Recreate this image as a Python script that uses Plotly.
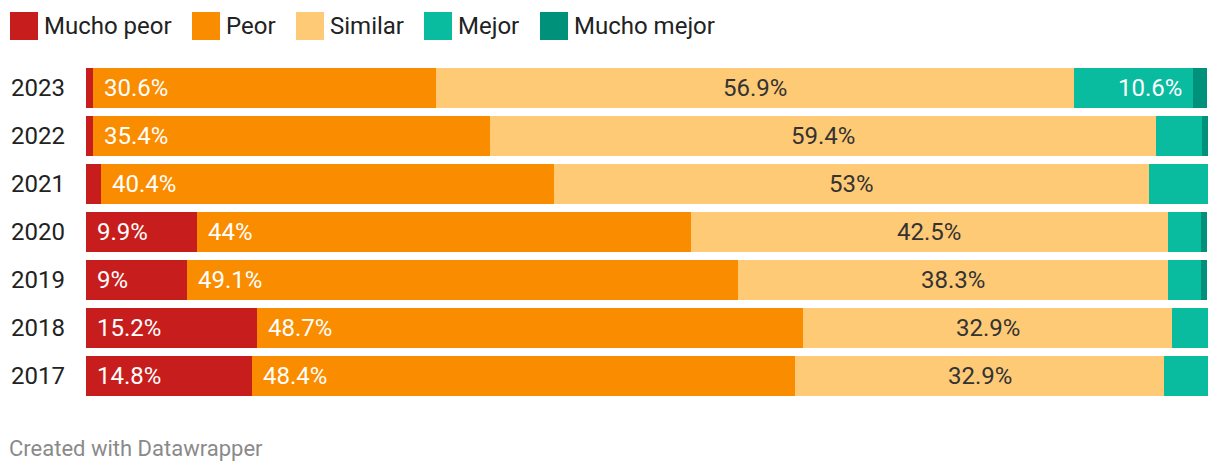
import plotly.graph_objects as go

years = ["2023", "2022", "2021", "2020", "2019", "2018", "2017"]
series_names = ["Mucho peor", "Peor", "Similar", "Mejor", "Mucho mejor"]
mucho_peor = [0.6, 0.6, 1.3, 9.9, 9.0, 15.2, 14.8]
peor = [30.6, 35.4, 40.4, 44.0, 49.1, 48.7, 48.4]
similar = [56.9, 59.4, 53.0, 42.5, 38.3, 32.9, 32.9]
mejor = [10.6, 4.1, 5.3, 3.0, 3.0, 3.2, 3.9]
mucho_mejor = [1.2, 0.5, 0.0, 0.5, 0.5, 0.0, 0.0]
colors = ["#c71e1d", "#fa8c00", "#ffca76", "#09bb9f", "#00917a"]
text_colors = ["#ffffff", "#ffffff", "#333333", "#ffffff", "#ffffff"]
aligns = ["left", "left", "center", "right", "right"]
min_label = 8.0

W, H = 1220, 474
L, R, T, B = 86, 12, 64, 74
PW, PH = W - L - R, H - T - B

def px_x(x):
    return (x - L) / PW

def px_y(y):
    return (H - B - y) / PH

ypos = list(range(len(years)))
all_series = [mucho_peor, peor, similar, mejor, mucho_mejor]
fig = go.Figure()
for name, vals, col in zip(series_names, all_series, colors):
    fig.add_trace(go.Bar(
        y=ypos, x=vals, name=name, orientation="h",
        marker=dict(color=col, line=dict(width=0)),
        showlegend=False, hoverinfo="skip"))

annotations = []
for i, yr in enumerate(years):
    start = 0.0
    for s, vals in enumerate(all_series):
        v = vals[i]
        if v >= min_label:
            a = aligns[s]
            if a == "left":
                x, xa, sh = start, "left", 9
            elif a == "center":
                x, xa, sh = start + v / 2, "center", 0
            else:
                x, xa, sh = start + v, "right", -9
            annotations.append(dict(
                x=x, y=i, xref="x", yref="y", text=f"{v:g}%",
                xanchor=xa, yanchor="middle", xshift=sh, showarrow=False,
                font=dict(family="Roboto", size=24, color=text_colors[s])))
        start += v

# legend
shapes = []
leg_sq = [10, 192, 296, 424, 540]
for name, col, x0 in zip(series_names, colors, leg_sq):
    shapes.append(dict(type="rect", xref="paper", yref="paper",
                       x0=px_x(x0), x1=px_x(x0 + 28), y0=px_y(40), y1=px_y(12),
                       fillcolor=col, line=dict(width=0)))
    annotations.append(dict(x=px_x(x0 + 32), y=px_y(26), xref="paper", yref="paper",
                            text=name, xanchor="left", yanchor="middle", showarrow=False,
                            font=dict(family="Roboto", size=24, color="#222222")))

annotations.append(dict(x=px_x(7), y=px_y(448), xref="paper", yref="paper",
                        text="Created with Datawrapper", xanchor="left", yanchor="middle",
                        showarrow=False, font=dict(family="Roboto", size=22, color="#8a8a8a")))

fig.update_layout(
    width=W, height=H, barmode="stack", bargap=8 / 48,
    margin=dict(l=L, r=R, t=T, b=B),
    paper_bgcolor="white", plot_bgcolor="white",
    xaxis=dict(range=[0, 100], visible=False, fixedrange=True, automargin=False),
    yaxis=dict(range=[len(years) - 0.5, -0.5], tickvals=ypos, ticktext=years,
               showgrid=False, zeroline=False, fixedrange=True,
               showline=False, ticks="", ticklabelstandoff=20, automargin=False,
               tickfont=dict(family="Roboto", size=24, color="#222222")),
    annotations=annotations, shapes=shapes, showlegend=False,
)
fig.write_html("out.html", config={"displayModeBar": False},
               post_script="document.body.style.margin='0';")
